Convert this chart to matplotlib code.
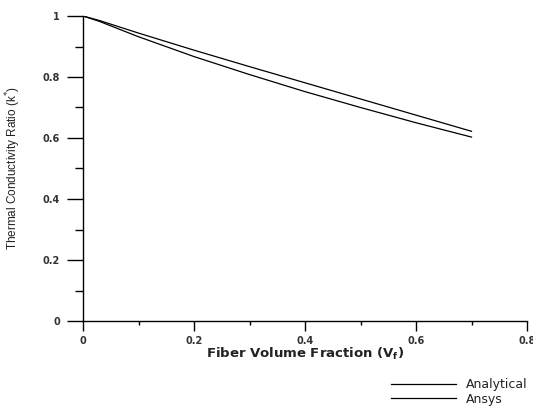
import matplotlib
matplotlib.use('Agg')
import matplotlib.pyplot as plt
from matplotlib.ticker import MultipleLocator

# fraction volumique de fibres et ratio de conductivité
vf = [0.0, 0.03, 0.1, 0.2, 0.3, 0.4, 0.5, 0.6, 0.7]
k_analytical = [1.0, 0.985, 0.944, 0.888, 0.834, 0.781, 0.728, 0.675, 0.622]
k_ansys = [1.0, 0.982, 0.932, 0.867, 0.808, 0.752, 0.700, 0.650, 0.603]

x_ticks = [0, 0.2, 0.4, 0.6, 0.8]
x_labels = ['0', '0.2', '0.4', '0.6', '0.8']
y_ticks = [0, 0.2, 0.4, 0.6, 0.8, 1.0]
y_labels = ['0', '0.2', '0.4', '0.6', '0.8', '1']

plt.rcParams['font.family'] = ['DejaVu Sans']
plt.rcParams['mathtext.fontset'] = 'dejavusans'

fig = plt.figure(figsize=(5.33, 4.07), dpi=100)
ax = fig.add_axes([83 / 533, 1 - 321 / 407, (527 - 83) / 533, (321 - 16) / 407])

ax.plot(vf, k_analytical, color='black', linewidth=0.9, label='Analytical')
ax.plot(vf, k_ansys, color='black', linewidth=0.9, label='Ansys')

ax.set_xlim(0, 0.8)
ax.set_ylim(0, 1)
ax.spines['top'].set_visible(False)
ax.spines['right'].set_visible(False)
ax.spines['left'].set_linewidth(1.0)
ax.spines['bottom'].set_linewidth(1.0)

ax.set_xticks(x_ticks)
ax.set_xticklabels(x_labels)
ax.set_yticks(y_ticks)
ax.set_yticklabels(y_labels)
ax.xaxis.set_minor_locator(MultipleLocator(0.1))
ax.yaxis.set_minor_locator(MultipleLocator(0.1))
ax.tick_params(axis='x', which='major', direction='out', length=7.2, width=1.0, pad=3.5,
               labelsize=7, labelcolor='#333333')
ax.tick_params(axis='x', which='minor', direction='out', length=3.2, width=1.0)
ax.tick_params(axis='y', which='major', direction='out', length=11.5, width=1.0, pad=5,
               labelsize=7, labelcolor='#333333')
ax.tick_params(axis='y', which='minor', direction='out', length=5.5, width=1.0)
for lbl in ax.get_xticklabels() + ax.get_yticklabels():
    lbl.set_fontweight('bold')

ax.set_xlabel('Fiber Volume Fraction (V$_\\mathbf{f}$)', fontsize=9.5, fontweight='bold',
              color='#222222', labelpad=0)
ax.set_ylabel('Thermal Conductivity Ratio (k$^{*}$)', fontsize=8.5, color='#222222',
              family=['Liberation Sans', 'DejaVu Sans'], labelpad=14)

fig.legend(loc='upper left', bbox_to_anchor=(385 / 533, 1 - 372 / 407), frameon=False,
           fontsize=9, handlelength=5.2, handletextpad=0.8, labelspacing=0.12,
           borderpad=0, labelcolor='#222222')

plt.savefig('out.png', dpi=100)
plt.close()
